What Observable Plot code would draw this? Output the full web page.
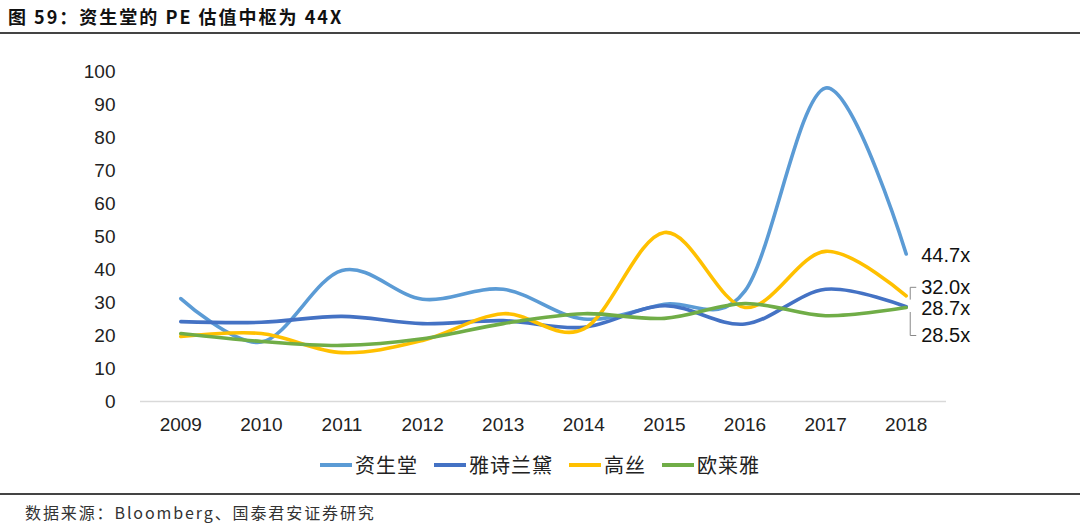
<!DOCTYPE html>
<html>
<head>
<meta charset="utf-8">
<script src="https://cdn.jsdelivr.net/npm/d3@7"></script>
<script src="https://cdn.jsdelivr.net/npm/@observablehq/plot@0.6"></script>
<style>
  html, body { margin: 0; padding: 0; background: #fff; }
  body { width: 1080px; height: 527px; overflow: hidden; position: relative; font-family: "Liberation Sans", "Noto Sans CJK SC", sans-serif; }
  #title { position: absolute; left: 8px; top: 4px; font-family: "Noto Sans CJK SC", sans-serif; font-weight: 700; font-size: 18px; letter-spacing: 2px; color: #111; line-height: 24px; }
  #tline { position: absolute; left: 0; top: 32px; width: 1080px; height: 2px; background: #444; }
  #chart { position: absolute; left: 0; top: 35px; }
  #legend { position: absolute; left: 0; top: 450px; width: 1080px; display: flex; justify-content: center; gap: 16px; font-family: "Noto Sans CJK SC", sans-serif; font-size: 20px; letter-spacing: 1px; color: #222; }
  #legend .item { display: flex; align-items: center; }
  #legend .sw { width: 32px; height: 4px; margin-right: 3px; }
  #fline { position: absolute; left: 0; top: 493px; width: 1080px; height: 2px; background: #444; }
  #footer { position: absolute; left: 25px; top: 500px; font-family: "Noto Sans CJK SC", sans-serif; font-size: 16px; letter-spacing: 1.9px; color: #333; line-height: 24px; }
</style>
</head>
<body>
<div id="title">图 59：资生堂的 PE 估值中枢为 44X</div>
<div id="tline"></div>
<div id="chart"></div>
<div id="legend"></div>
<div id="fline"></div>
<div id="footer">数据来源：Bloomberg、国泰君安证券研究</div>
<script>
const years = [2009, 2010, 2011, 2012, 2013, 2014, 2015, 2016, 2017, 2018];
const seriesNames = ["资生堂", "雅诗兰黛", "高丝", "欧莱雅"];
const seriesColors = ["#5B9BD5", "#4472C4", "#FFC000", "#70AD47"];
const shiseido = [31.2, 18.0, 39.7, 31.0, 34.0, 25.0, 29.5, 33.5, 95.0, 44.7];
const estee    = [24.2, 24.0, 25.8, 23.6, 24.5, 22.5, 29.0, 23.5, 34.0, 28.7];
const kose     = [19.7, 20.6, 14.8, 18.5, 26.6, 22.0, 51.2, 28.5, 45.5, 32.0];
const loreal   = [20.6, 18.2, 17.0, 19.0, 23.6, 26.6, 25.2, 29.7, 26.0, 28.5];
const yTicks = [0, 10, 20, 30, 40, 50, 60, 70, 80, 90, 100];
const endLabels = ["44.7x", "28.7x", "32.0x", "28.5x"];
const endLabelY = [44.3, 28.3, 34.6, 20.0];

const allSeries = [shiseido, estee, kose, loreal];
const rows = [];
allSeries.forEach((vals, i) => vals.forEach((v, j) => rows.push({series: seriesNames[i], year: years[j], value: v})));

const labels = seriesNames.map((s, i) => ({series: s, year: years[years.length - 1], y: endLabelY[i], text: endLabels[i]}));

// leader lines for the two offset labels (高丝 above, 欧莱雅 below)
const lastX = years[years.length - 1];
const leaders = [
  {g: "a", x: lastX + 0.12, y: endLabelY[2]}, {g: "a", x: lastX + 0.05, y: endLabelY[2]}, {g: "a", x: lastX + 0.05, y: kose[9] - 1.0},
  {g: "b", x: lastX + 0.05, y: loreal[9] - 1.5}, {g: "b", x: lastX + 0.05, y: endLabelY[3]}, {g: "b", x: lastX + 0.12, y: endLabelY[3]}
];

const plot = Plot.plot({
  width: 1080,
  height: 411,
  marginLeft: 140,
  marginRight: 134,
  marginTop: 36,
  marginBottom: 45,
  style: {fontFamily: "Liberation Sans, sans-serif", fontSize: "19px", color: "#222", background: "transparent"},
  x: {domain: [2008.5, 2018.5], ticks: years, tickFormat: d => String(d), tickSize: 0, tickPadding: 16, label: null},
  y: {domain: [0, 100], ticks: yTicks, tickSize: 0, tickPadding: 25, label: null},
  color: {domain: seriesNames, range: seriesColors},
  marks: [
    Plot.ruleY([0], {x1: 2008.5, x2: 2018.5, stroke: "#d9d9d9", strokeWidth: 1.5}),
    Plot.line(rows, {x: "year", y: "value", z: "series", stroke: "series", strokeWidth: 3.6, curve: "cardinal"}),
    Plot.line(leaders, {x: "x", y: "y", z: "g", stroke: "#888", strokeWidth: 1}),
    Plot.text(labels, {x: "year", y: "y", text: "text", textAnchor: "start", dx: 15, fontSize: 20, fill: "#111"})
  ]
});
document.getElementById("chart").appendChild(plot);

const legend = document.getElementById("legend");
seriesNames.forEach((s, i) => {
  const it = document.createElement("div");
  it.className = "item";
  const sw = document.createElement("div");
  sw.className = "sw";
  sw.style.background = seriesColors[i];
  const t = document.createElement("span");
  t.textContent = s;
  it.appendChild(sw); it.appendChild(t);
  legend.appendChild(it);
});
</script>
</body>
</html>
